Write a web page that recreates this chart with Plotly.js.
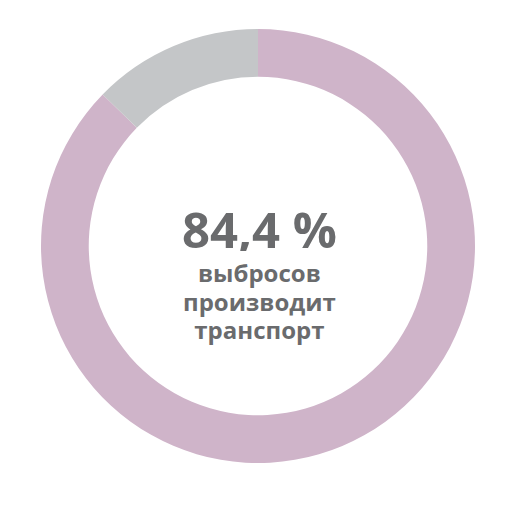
<!DOCTYPE html>
<html>
<head>
<meta charset="utf-8">
<script src="https://cdn.plot.ly/plotly-3.0.1.min.js"></script>
<style>html,body{margin:0;padding:0;background:#fff;}#chart{width:505px;height:507px;}</style>
</head>
<body>
<div id="chart"></div>
<script>
var labels = ["Транспорт", "Прочие источники"];
var values = [87.3, 12.7];
var colors = ["#cfb4c9", "#c4c6c8"];
var headline = "84,4 %";
var captionLines = ["выбросов", "производит", "транспорт"];

var W = 505, H = 507;
function py(px) { return (H - px) / H; }

var trace = {
  type: "pie",
  labels: labels,
  values: values,
  hole: 0.78,
  sort: false,
  direction: "clockwise",
  rotation: 0,
  textinfo: "none",
  hoverinfo: "none",
  showlegend: false,
  marker: { colors: colors, line: { width: 0 } },
  domain: { x: [41 / W, 475 / W], y: [(H - 463) / H, (H - 29) / H] }
};

var textColor = "#6a6b6d";
var caption = captionLines.map(function (t) {
  return '<span style="font-size:24px">' + t + '</span>';
}).join("<br>");

var annotations = [{
  text: headline, xref: "paper", yref: "paper", x: 259 / W, y: py(229),
  xanchor: "center", yanchor: "middle", showarrow: false, height: 44,
  font: { family: "Open Sans", size: 49, color: textColor, weight: 700 }
}, {
  text: caption, xref: "paper", yref: "paper", x: 259 / W, y: py(300.5),
  xanchor: "center", yanchor: "middle", showarrow: false,
  font: { family: "Open Sans", size: 22, color: textColor, weight: 700 }
}];

Plotly.newPlot("chart", [trace], {
  width: W, height: H,
  margin: { l: 0, r: 0, t: 0, b: 0 },
  paper_bgcolor: "#ffffff",
  annotations: annotations
}, { staticPlot: true });
</script>
</body>
</html>
